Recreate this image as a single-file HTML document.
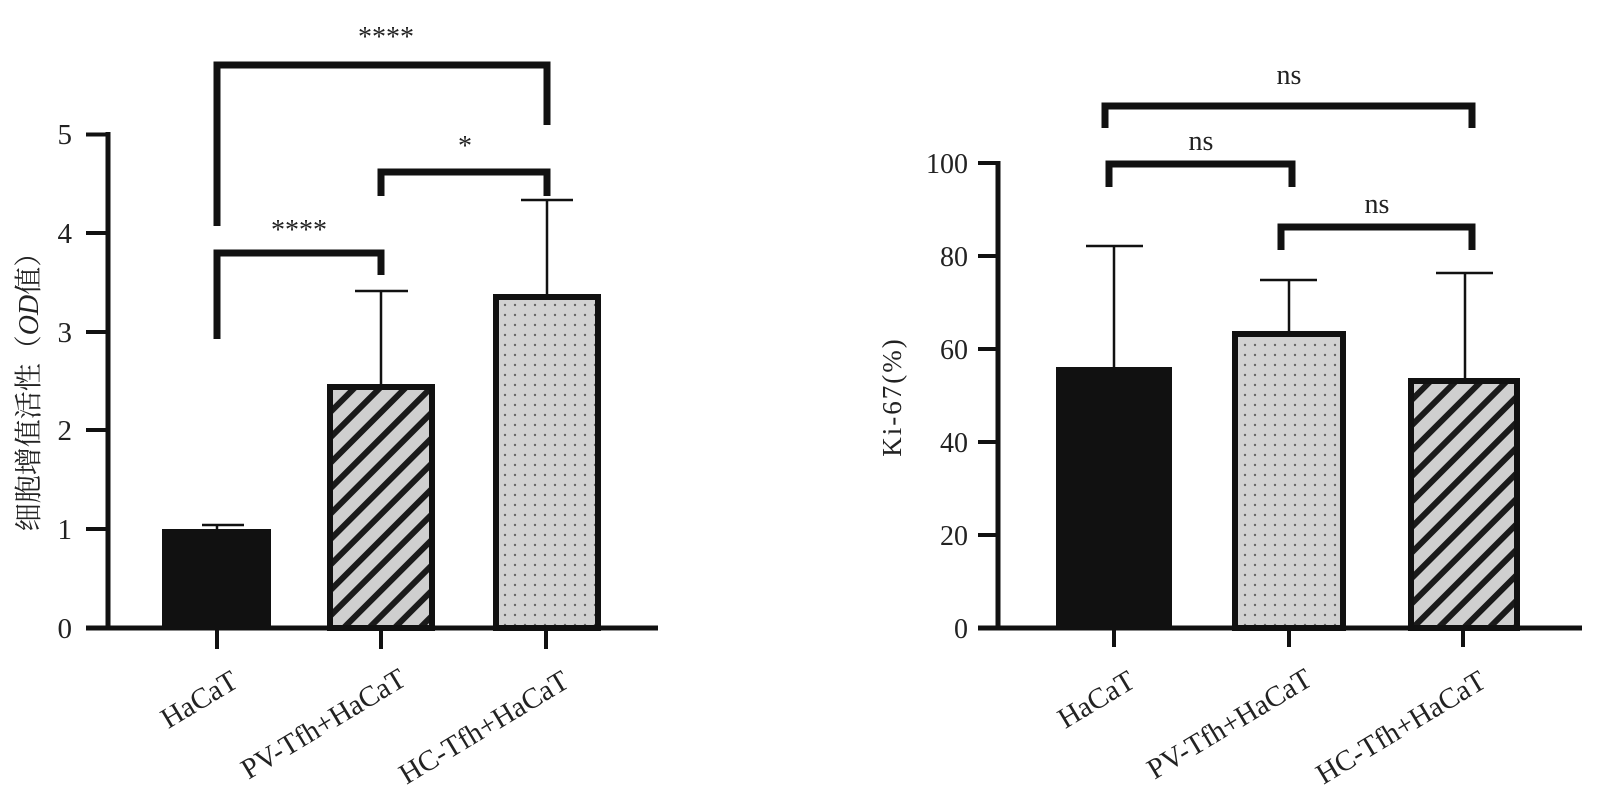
<!DOCTYPE html>
<html><head><meta charset="utf-8"><style>html,body{margin:0;padding:0;background:#fff}</style></head>
<body>
<svg width="1623" height="788" viewBox="0 0 1623 788" xmlns="http://www.w3.org/2000/svg" font-family="'Liberation Serif','Noto Serif CJK SC',serif" fill="#222">
<defs>
<pattern id="hatch" patternUnits="userSpaceOnUse" width="18" height="18" patternTransform="rotate(45)">
<rect width="18" height="18" fill="#cfcfcf"/><rect x="0" y="0" width="6" height="18" fill="#1a1a1a"/>
</pattern>
<pattern id="dots" patternUnits="userSpaceOnUse" width="10" height="10">
<rect width="10" height="10" fill="#d2d2d2"/><circle cx="5" cy="5" r="1.2" fill="#666"/>
</pattern>
</defs>
<g stroke="#111" fill="none">
<line x1="108" y1="132" x2="108" y2="630" stroke-width="5"/>
<line x1="86" y1="628" x2="658" y2="628" stroke-width="5"/>
<g stroke-width="4">
<line x1="86" y1="134.5" x2="108" y2="134.5"/><line x1="86" y1="233" x2="108" y2="233"/><line x1="86" y1="332" x2="108" y2="332"/><line x1="86" y1="430" x2="108" y2="430"/><line x1="86" y1="529" x2="108" y2="529"/>
<line x1="217" y1="628" x2="217" y2="649"/><line x1="381" y1="628" x2="381" y2="649"/><line x1="546" y1="628" x2="546" y2="649"/>
</g>
<g stroke-width="2.5">
<line x1="217" y1="525" x2="217" y2="530"/><line x1="202" y1="525" x2="244" y2="525"/>
<line x1="381" y1="291" x2="381" y2="385"/><line x1="355" y1="291" x2="408" y2="291"/>
<line x1="547" y1="200" x2="547" y2="294"/><line x1="521" y1="200" x2="573" y2="200"/>
</g>
</g>
<rect x="162" y="529" width="109" height="99" fill="#111"/>
<rect x="330" y="387" width="102" height="241" fill="url(#hatch)" stroke="#111" stroke-width="6"/>
<rect x="496" y="297" width="102" height="331" fill="url(#dots)" stroke="#111" stroke-width="6"/>
<g stroke="#111" stroke-width="7" fill="none">
<polyline points="217,226 217,65 547,65 547,125"/>
<polyline points="217,339 217,253 381,253 381,275"/>
<polyline points="381,196 381,172 547,172 547,196"/>
</g>
<g font-size="28" text-anchor="middle">
<text x="386" y="46">****</text><text x="299" y="239">****</text><text x="465" y="155">*</text>
</g>
<g font-size="29" text-anchor="end">
<text x="72" y="144">5</text><text x="72" y="243">4</text><text x="72" y="342">3</text><text x="72" y="440">2</text><text x="72" y="539">1</text><text x="72" y="638">0</text>
</g>
<text transform="translate(38,385) rotate(-90)" font-size="28" text-anchor="middle">细胞增值活性（<tspan font-style="italic">OD</tspan>值）</text>
<g font-size="29" text-anchor="end">
<text transform="translate(240,686) rotate(-31)">HaCaT</text>
<text transform="translate(408,684) rotate(-31)">PV-Tfh+HaCaT</text>
<text transform="translate(571,686) rotate(-31)">HC-Tfh+HaCaT</text>
</g>

<g stroke="#111" fill="none">
<line x1="998" y1="161" x2="998" y2="630" stroke-width="5"/>
<line x1="978" y1="628" x2="1582" y2="628" stroke-width="5"/>
<g stroke-width="4">
<line x1="978" y1="163" x2="998" y2="163"/><line x1="978" y1="256" x2="998" y2="256"/><line x1="978" y1="349" x2="998" y2="349"/><line x1="978" y1="442" x2="998" y2="442"/><line x1="978" y1="535" x2="998" y2="535"/>
<line x1="1114" y1="628" x2="1114" y2="647"/><line x1="1289" y1="628" x2="1289" y2="647"/><line x1="1463" y1="628" x2="1463" y2="647"/>
</g>
<g stroke-width="2.5">
<line x1="1114" y1="246" x2="1114" y2="368"/><line x1="1086" y1="246" x2="1143" y2="246"/>
<line x1="1289" y1="280" x2="1289" y2="331"/><line x1="1260" y1="280" x2="1317" y2="280"/>
<line x1="1465" y1="273" x2="1465" y2="379"/><line x1="1436" y1="273" x2="1493" y2="273"/>
</g>
</g>
<rect x="1056" y="367" width="116" height="261" fill="#111"/>
<rect x="1235" y="334" width="108" height="294" fill="url(#dots)" stroke="#111" stroke-width="6"/>
<rect x="1411" y="381" width="106" height="247" fill="url(#hatch)" stroke="#111" stroke-width="6"/>
<g stroke="#111" stroke-width="7" fill="none">
<polyline points="1105,128 1105,106 1472,106 1472,128"/>
<polyline points="1109,187 1109,164 1292,164 1292,187"/>
<polyline points="1281,250 1281,227 1472,227 1472,250"/>
</g>
<g font-size="28" text-anchor="middle">
<text x="1289" y="84">ns</text><text x="1201" y="150">ns</text><text x="1377" y="213">ns</text>
</g>
<g font-size="28" text-anchor="end">
<text x="968" y="173">100</text><text x="968" y="266">80</text><text x="968" y="359">60</text><text x="968" y="452">40</text><text x="968" y="545">20</text><text x="968" y="638">0</text>
</g>
<text transform="translate(901,397) rotate(-90)" font-size="27" text-anchor="middle" letter-spacing="2">Ki-67(%)</text>
<g font-size="29" text-anchor="end">
<text transform="translate(1137,686) rotate(-31)">HaCaT</text>
<text transform="translate(1314,684) rotate(-31)">PV-Tfh+HaCaT</text>
<text transform="translate(1488,686) rotate(-31)">HC-Tfh+HaCaT</text>
</g>
</svg>
</body></html>
